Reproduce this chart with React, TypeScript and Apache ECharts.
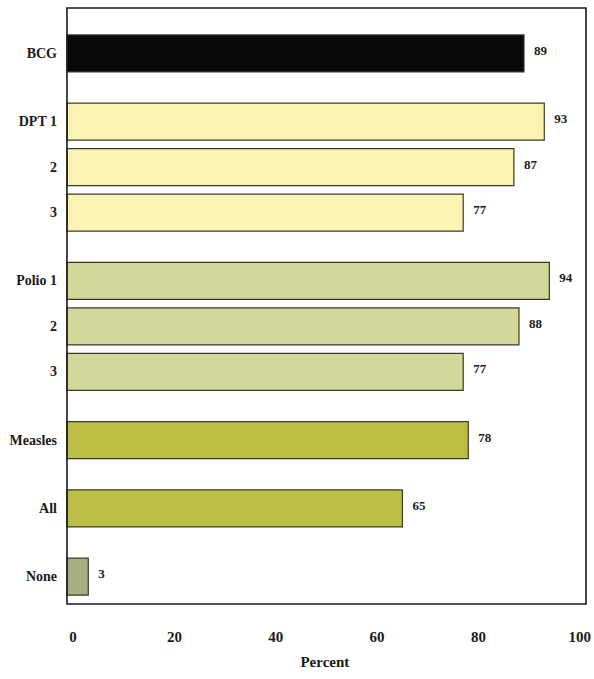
import React, { useEffect, useRef } from "react";
import * as echarts from "echarts";

const categories = ["BCG", "DPT 1", "2", "3", "Polio 1", "2", "3", "Measles", "All", "None"];
const values = [89, 93, 87, 77, 94, 88, 77, 78, 65, 3];
const groups = [0, 1, 1, 1, 2, 2, 2, 3, 4, 5];
const xTicks = [0, 20, 40, 60, 80, 100];
const xTitle = "Percent";

const groupColors = ["#080808", "#FBF3B3", "#D3D799", "#BBBF46", "#BBBF46", "#A8AD82"];
const FONT = "Liberation Serif";

export default function App() {
  const ref = useRef<HTMLDivElement>(null);
  useEffect(() => {
    if (!ref.current) return;
    const chart = echarts.init(ref.current, null, { renderer: "svg" });

    const slots: string[] = [];
    const slotOf: number[] = [];
    categories.forEach((c, i) => {
      if (i > 0) {
        if (groups[i] !== groups[i - 1]) slots.push("", "");
        else slots.push("");
      }
      slotOf.push(slots.length);
      slots.push(c);
    });

    const xMin = -1.2;
    const xMax = 100.6;
    const data = values.map((v, i) => [v, slotOf[i], groups[i]]);

    chart.setOption({
      animation: false,
      backgroundColor: "#ffffff",
      textStyle: { fontFamily: FONT },
      grid: { left: 67, right: 8, top: 42, bottom: 91, containLabel: false },
      xAxis: {
        type: "value",
        min: xMin,
        max: xMax,
        splitLine: { show: false },
        axisLine: { show: false },
        axisTick: { show: false },
        axisLabel: {
          customValues: xTicks,
          margin: 41,
          fontFamily: FONT,
          fontWeight: "bold",
          fontSize: 15,
          color: "#1a1a1a",
        },
        name: xTitle,
        nameLocation: "middle",
        nameGap: 66,
        nameTextStyle: { fontFamily: FONT, fontWeight: "bold", fontSize: 15, color: "#1a1a1a" },
      },
      yAxis: {
        type: "category",
        inverse: true,
        data: slots,
        boundaryGap: true,
        axisLine: { show: false },
        axisTick: { show: false },
        splitLine: { show: false },
        axisLabel: {
          interval: 0,
          margin: 10,
          fontFamily: FONT,
          fontWeight: "bold",
          fontSize: 14,
          color: "#1a1a1a",
        },
      },
      graphic: [
        {
          type: "rect",
          shape: { x: 67, y: 8, width: 519, height: 596 },
          style: { fill: "none", stroke: "#1a1a1a", lineWidth: 1.6 },
          z: 10,
        },
      ],
      series: [
        {
          type: "custom",
          encode: { x: 0, y: 1 },
          data,
          renderItem: (params: any, api: any) => {
            const v = api.value(0);
            const slot = api.value(1);
            const g = api.value(2);
            const start = api.coord([xMin, slot]);
            const end = api.coord([v, slot]);
            const h = 37;
            return {
              type: "group",
              children: [
                {
                  type: "rect",
                  shape: { x: start[0], y: start[1] - h / 2, width: end[0] - start[0], height: h },
                  style: { fill: groupColors[g], stroke: "#3a3a2c", lineWidth: 1.2 },
                },
                {
                  type: "text",
                  x: end[0] + 10,
                  y: end[1] - 3,
                  style: {
                    text: String(v),
                    fontFamily: FONT,
                    fontWeight: "bold",
                    fontSize: 13,
                    fill: "#1a1a1a",
                    verticalAlign: "middle",
                    align: "left",
                  },
                },
              ],
            };
          },
        },
      ],
    });
    return () => chart.dispose();
  }, []);
  return <div ref={ref} style={{ position: "fixed", left: 0, top: 0, width: 594, height: 679 }} />;
}
